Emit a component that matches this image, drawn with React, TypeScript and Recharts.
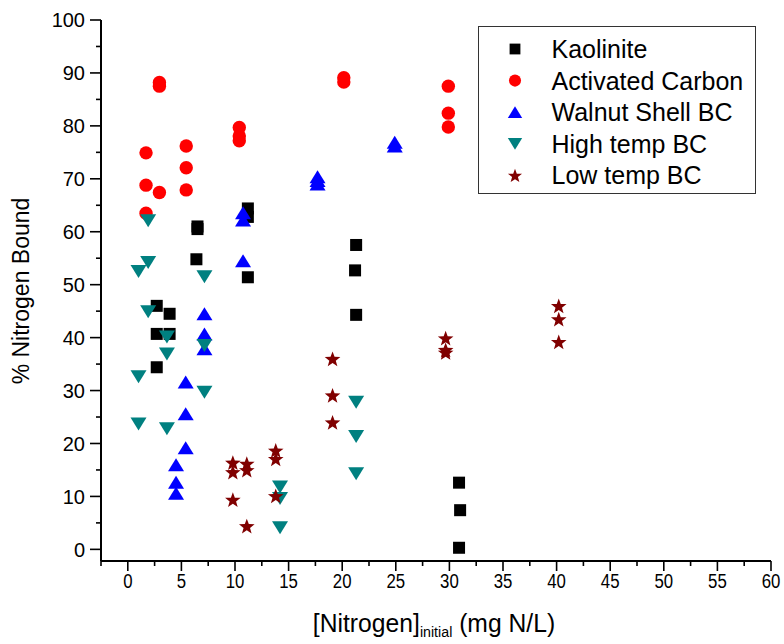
import React from 'react';
import { ScatterChart, Scatter, XAxis, YAxis, Legend, Label } from 'recharts';

// [Nitrogen]initial (mg N/L), % Nitrogen Bound
const KAOLINITE: [number, number][] = [
  [2.7, 46.0], [2.7, 40.7], [2.7, 34.4], [3.9, 44.5], [3.9, 40.7],
  [6.5, 61.0], [6.5, 60.5], [6.4, 54.8], [11.2, 64.4], [11.2, 62.8],
  [11.2, 51.4], [21.3, 57.5], [21.2, 52.7], [21.3, 44.3],
  [30.9, 12.6], [31.0, 7.4], [30.9, 0.3],
];
const ACTIVATED_CARBON: [number, number][] = [
  [2.95, 88.2], [2.95, 87.5], [10.4, 79.7], [10.4, 78.1], [10.4, 77.2],
  [1.7, 74.9], [5.45, 76.2], [5.45, 72.1], [1.7, 68.8], [2.95, 67.4],
  [5.45, 67.9], [1.7, 63.5], [20.15, 89.1], [20.15, 88.3],
  [29.9, 87.5], [29.9, 82.4], [29.9, 79.8],
];
const WALNUT_SHELL: [number, number][] = [
  [10.75, 63.6], [10.75, 62.2], [10.75, 54.5], [17.7, 70.4], [17.7, 69.7],
  [17.7, 69.0], [24.9, 76.9], [24.9, 76.2], [7.15, 44.5], [7.15, 40.7],
  [7.15, 37.9], [5.4, 31.6], [5.4, 25.6], [5.4, 19.2],
  [4.5, 16.0], [4.5, 12.7], [4.5, 10.6],
];
const HIGH_TEMP: [number, number][] = [
  [1.9, 62.1], [1.9, 54.2], [1.0, 52.5], [7.15, 51.5], [1.9, 44.9],
  [3.65, 40.1], [7.15, 38.5], [3.65, 36.9], [1.0, 32.6], [7.15, 29.7],
  [1.0, 23.7], [3.65, 22.8], [14.2, 11.8], [14.2, 9.6], [14.2, 4.1],
  [21.3, 27.8], [21.3, 21.3], [21.3, 14.3],
];
const LOW_TEMP: [number, number][] = [
  [9.8, 16.4], [9.8, 14.6], [9.8, 9.4], [11.1, 16.2], [11.1, 15.0],
  [11.1, 4.4], [13.8, 18.7], [13.8, 17.1], [13.8, 10.1],
  [19.1, 36.0], [19.1, 29.1], [19.1, 24.0],
  [29.65, 39.9], [29.65, 37.7], [29.65, 37.2],
  [40.2, 46.0], [40.2, 43.5], [40.2, 39.2],
];

const X_TICKS = [-2.5, 0, 2.5, 5, 7.5, 10, 12.5, 15, 17.5, 20, 22.5, 25, 27.5, 30,
  32.5, 35, 37.5, 40, 42.5, 45, 47.5, 50, 52.5, 55, 57.5, 60];
const Y_TICKS = [0, 5, 10, 15, 20, 25, 30, 35, 40, 45, 50, 55, 60, 65, 70, 75, 80,
  85, 90, 95, 100];

const FONT = '"Liberation Sans", Arial, sans-serif';

type Marker = 'square' | 'circle' | 'up' | 'down' | 'star';

function drawMarker(kind: Marker, cx: number, cy: number, color: string, s = 1) {
  if (kind === 'square') {
    const h = 6 * s;
    return <rect x={cx - h} y={cy - h} width={2 * h} height={2 * h} fill={color} />;
  }
  if (kind === 'circle') return <circle cx={cx} cy={cy} r={6.7 * s} fill={color} />;
  if (kind === 'up' || kind === 'down') {
    const w = 8 * s;
    const h = 6.5 * s;
    const d = kind === 'up' ? 1 : -1;
    const pts = `${cx},${cy - d * h} ${cx - w},${cy + d * h} ${cx + w},${cy + d * h}`;
    return <polygon points={pts} fill={color} />;
  }
  const pts: string[] = [];
  for (let i = 0; i < 10; i++) {
    const r = (i % 2 === 0 ? 8.2 : 3.4) * s;
    const a = -Math.PI / 2 + (i * Math.PI) / 5;
    pts.push(`${cx + r * Math.cos(a)},${cy + 0.8 * s + r * Math.sin(a)}`);
  }
  return <polygon points={pts.join(' ')} fill={color} />;
}

const SERIES: { name: string; data: [number, number][]; color: string; marker: Marker }[] = [
  { name: 'Kaolinite', data: KAOLINITE, color: '#000000', marker: 'square' },
  { name: 'Activated Carbon', data: ACTIVATED_CARBON, color: '#ff0000', marker: 'circle' },
  { name: 'Walnut Shell BC', data: WALNUT_SHELL, color: '#0000ff', marker: 'up' },
  { name: 'High temp BC', data: HIGH_TEMP, color: '#008080', marker: 'down' },
  { name: 'Low temp BC', data: LOW_TEMP, color: '#800000', marker: 'star' },
];

function YTick(props: any) {
  const { x, y, payload } = props;
  const major = payload.value % 10 === 0;
  return (
    <g>
      <line x1={x - (major ? 11 : 5)} x2={x} y1={y} y2={y} stroke="#000" strokeWidth={1.6} />
      {major && (
        <text x={x - 16} y={y} dy="0.36em" textAnchor="end" fontSize={20} fontFamily={FONT} fill="#000">
          {payload.value}
        </text>
      )}
    </g>
  );
}

function XTick(props: any) {
  const { x, y, payload } = props;
  const major = payload.value % 5 === 0;
  return (
    <g>
      <line x1={x} x2={x} y1={y} y2={y + (major ? 10 : 5)} stroke="#000" strokeWidth={1.6} />
      {major && (
        <text
          transform={`translate(${x} ${y + 27}) scale(0.8 1)`}
          textAnchor="middle"
          fontSize={21}
          fontFamily={FONT}
          fill="#000"
        >
          {payload.value}
        </text>
      )}
    </g>
  );
}

function TopTick(props: any) {
  const { x, y } = props;
  return <line x1={x} x2={x} y1={y} y2={y - 3} stroke="#000" strokeWidth={1.4} />;
}

function YTitle() {
  return (
    <text x={29} y={291} transform="rotate(-90 29 291)" textAnchor="middle" fontSize={23} fontFamily={FONT} fill="#000">
      % Nitrogen Bound
    </text>
  );
}

function XTitle() {
  return (
    <text
      transform="translate(434 632) scale(0.95 1)"
      textAnchor="middle"
      fontSize={26}
      fontFamily={FONT}
      fill="#000"
    >
      [Nitrogen]
      <tspan fontSize={15} dy={5}>initial</tspan>
      <tspan dy={-5}> (mg N/L)</tspan>
    </text>
  );
}

function LegendBox() {
  return (
    <div style={{ width: 278, height: 168, border: '1.5px solid #333', background: '#fff', boxSizing: 'border-box' }}>
      <svg width={276} height={166}>
        {SERIES.map((s, i) => (
          <g key={s.name}>
            {drawMarker(s.marker, 36, 22 + i * 31.6, s.color, 0.9)}
            <text x={72.5} y={22 + i * 31.6} dy="0.36em" fontSize={25} fontFamily={FONT} fill="#000">
              {s.name}
            </text>
          </g>
        ))}
      </svg>
    </div>
  );
}

export default function App() {
  return (
    <div style={{ position: 'absolute', left: 0, top: 0, width: 784, height: 644, background: '#fff' }}>
      <ScatterChart width={784} height={644} margin={{ top: 20, right: 13, left: 0, bottom: 0 }}>
        <XAxis
          xAxisId={0}
          type="number"
          dataKey="x"
          domain={[-2.5, 60]}
          ticks={X_TICKS}
          interval={0}
          allowDataOverflow
          height={83}
          tickSize={0}
          tickMargin={0}
          tick={<XTick />}
          axisLine={{ stroke: '#000', strokeWidth: 2 }}
        >
          <Label content={XTitle} />
        </XAxis>
        <XAxis
          xAxisId="top"
          orientation="top"
          type="number"
          domain={[-2.5, 60]}
          ticks={X_TICKS}
          interval={0}
          allowDataOverflow
          height={0}
          tickSize={0}
          tickMargin={0}
          tick={<TopTick />}
          axisLine={{ stroke: '#000', strokeWidth: 2 }}
        />
        <YAxis
          yAxisId={0}
          type="number"
          dataKey="y"
          domain={[-2.2, 100]}
          ticks={Y_TICKS}
          interval={0}
          allowDataOverflow
          width={101}
          tickSize={0}
          tickMargin={0}
          tick={<YTick />}
          axisLine={{ stroke: '#000', strokeWidth: 2 }}
        >
          <Label content={YTitle} />
        </YAxis>
        <YAxis
          yAxisId="right"
          orientation="right"
          type="number"
          domain={[-2.2, 100]}
          allowDataOverflow
          width={0}
          tick={false}
          tickLine={false}
          axisLine={{ stroke: '#000', strokeWidth: 2 }}
        />
        <Legend
          layout="vertical"
          align="center"
          verticalAlign="middle"
          content={LegendBox}
          wrapperStyle={{ left: 478, top: 26, width: 278, height: 168 }}
        />
        {SERIES.map((s) => (
          <Scatter
            key={s.name}
            name={s.name}
            xAxisId={0}
            yAxisId={0}
            data={s.data.map(([x, y]) => ({ x, y }))}
            fill={s.color}
            isAnimationActive={false}
            shape={(p: any) => drawMarker(s.marker, p.cx, p.cy, s.color)}
          />
        ))}
      </ScatterChart>
    </div>
  );
}
